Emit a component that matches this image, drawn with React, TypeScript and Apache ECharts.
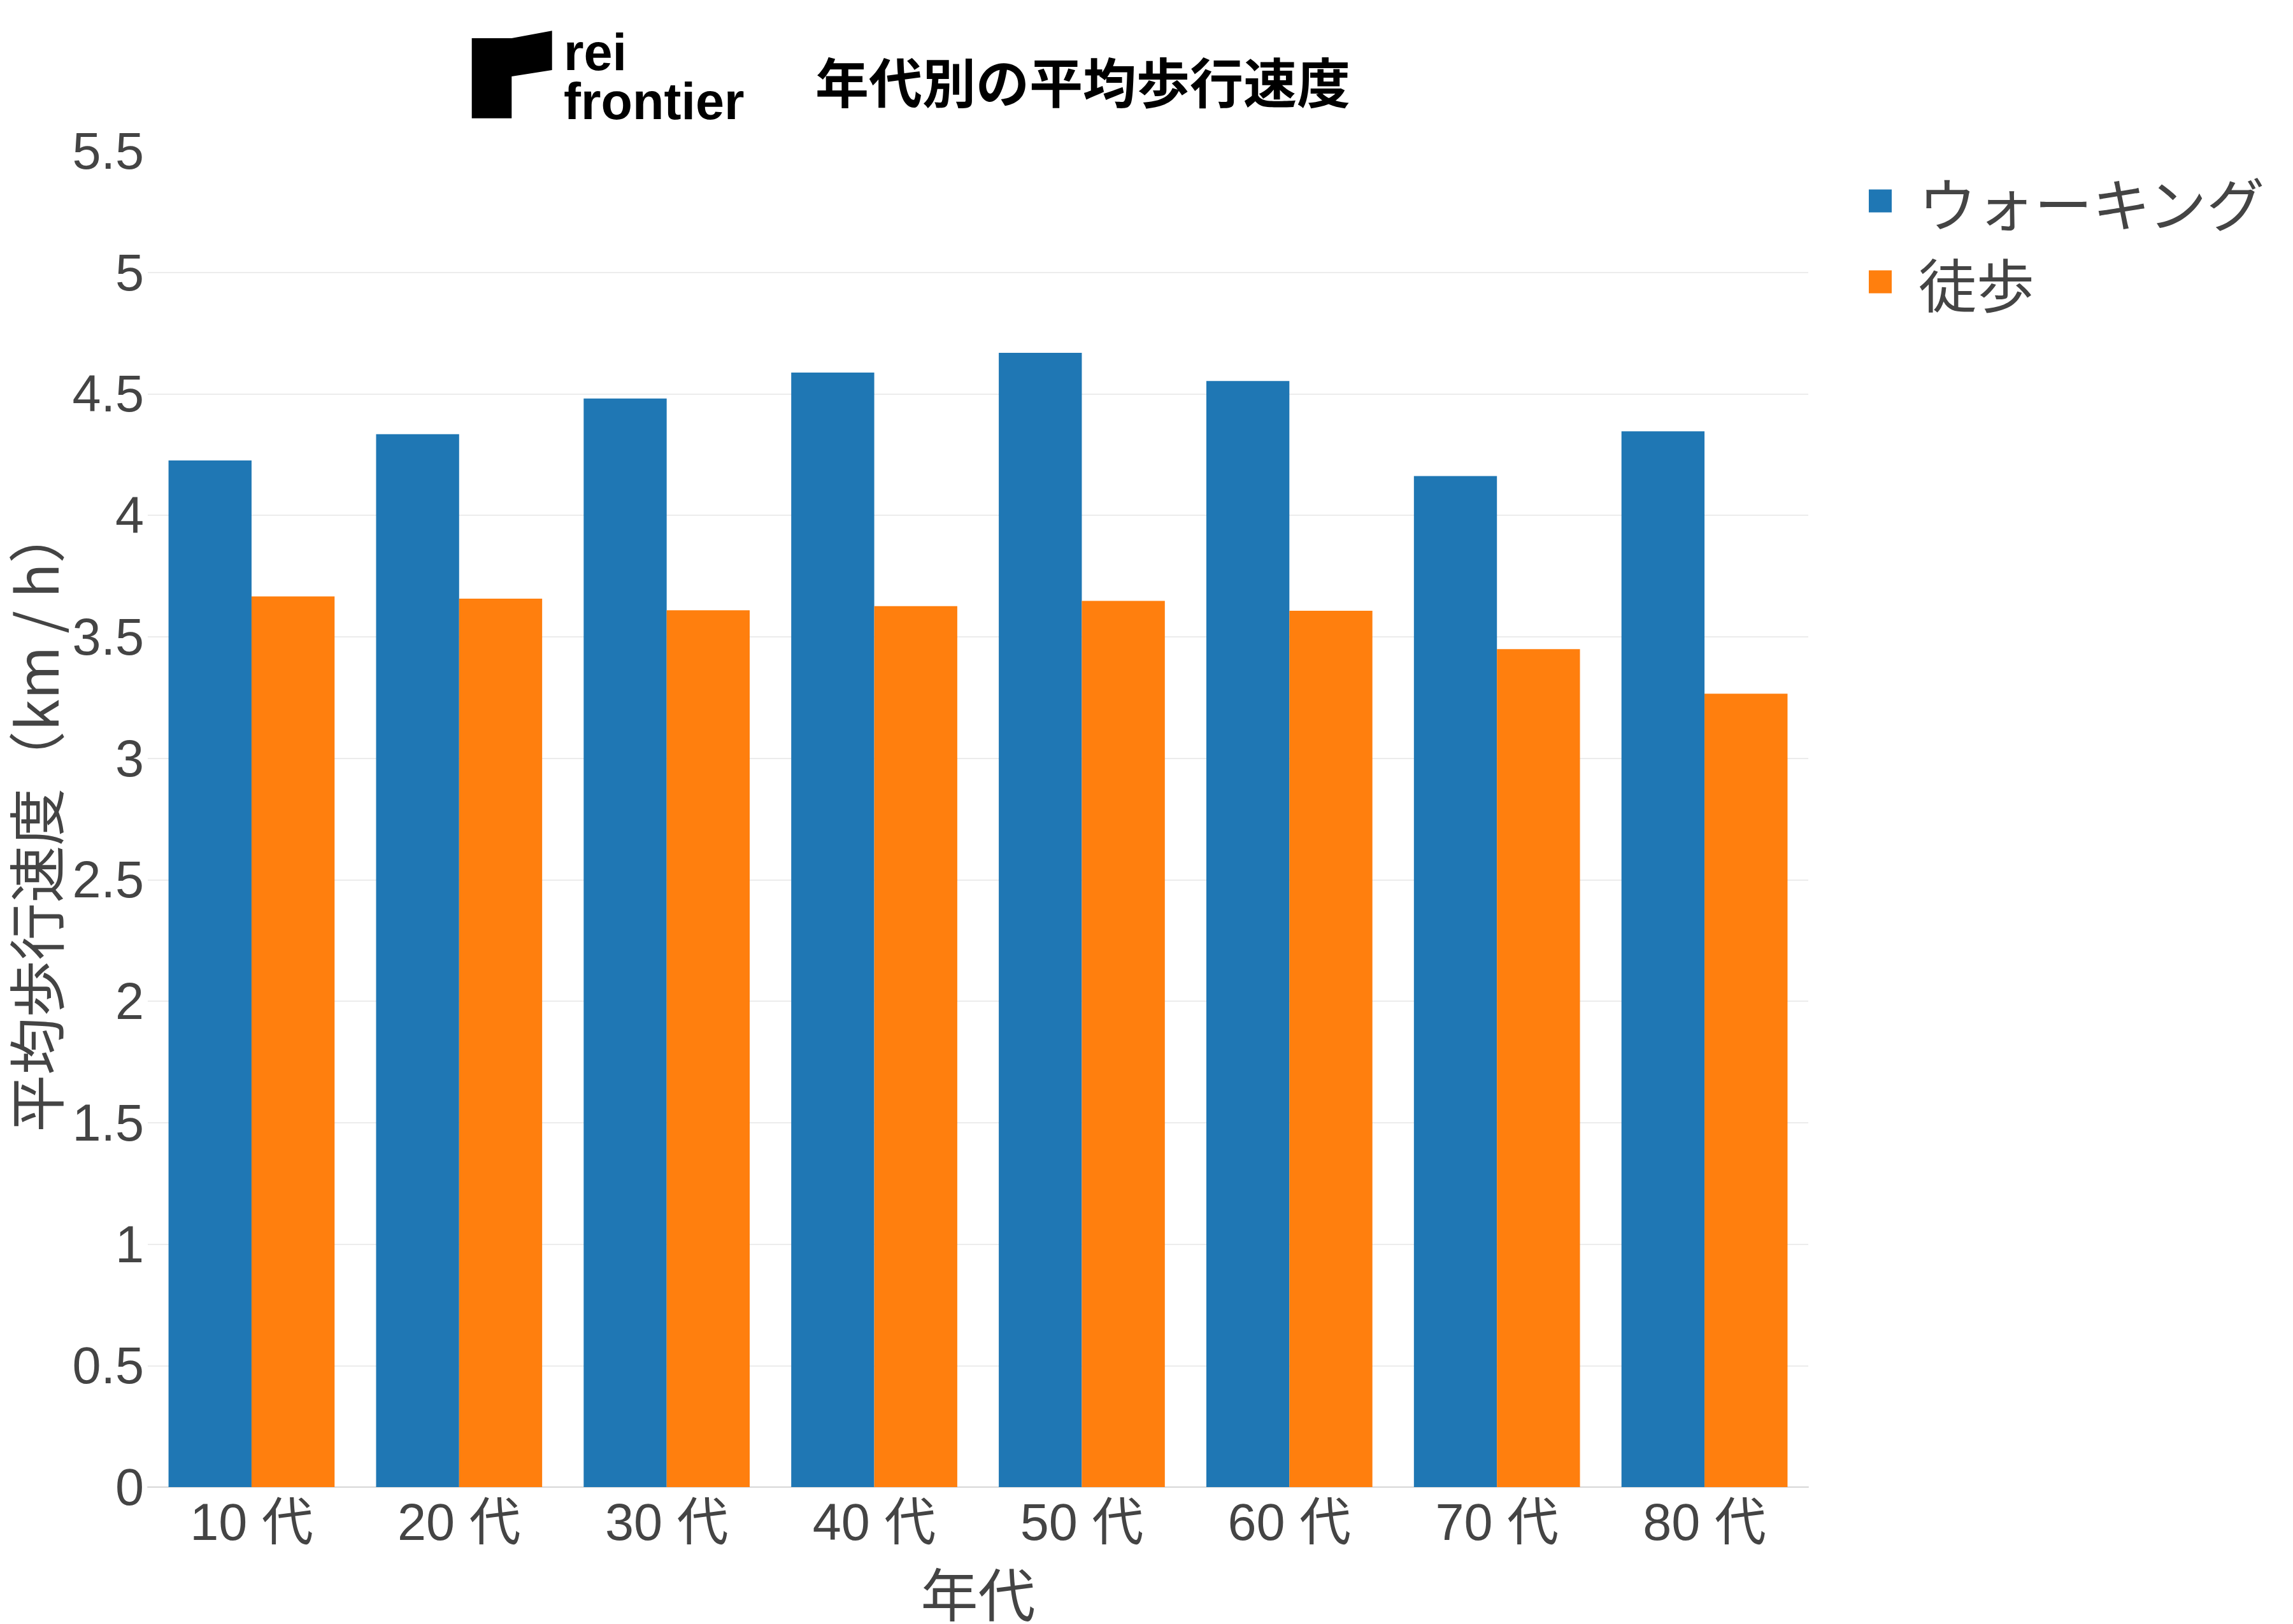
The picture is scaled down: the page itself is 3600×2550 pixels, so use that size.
import React, { useEffect, useRef } from "react";
import * as echarts from "echarts";

const categories = ["10 代", "20 代", "30 代", "40 代", "50 代", "60 代", "70 代", "80 代"];
const walkingValues = [4.226, 4.334, 4.481, 4.588, 4.669, 4.553, 4.162, 4.346];
const tohoValues = [3.666, 3.657, 3.609, 3.626, 3.648, 3.607, 3.449, 3.266];
const seriesNames = ["ウォーキング", "徒歩"];
const seriesColors = ["#1f77b4", "#ff7f0e"];
const yMin = 0;
const yMax = 5.5;
const yInterval = 0.5;

const titleText = "年代別の平均歩行速度";
const xTitle = "年代";
const yTitle = "平均歩行速度（km / h）";
const logoText = "rei\nfrontier";

const LATIN = "'Liberation Sans', 'Noto Sans CJK JP', sans-serif";
const CJK = "'Noto Sans CJK JP', 'Liberation Sans', sans-serif";

export default function App() {
  const ref = useRef<HTMLDivElement>(null);
  useEffect(() => {
    if (!ref.current) return;
    const chart = echarts.init(ref.current, null, { renderer: "svg" });
    const nTicks = Math.round((yMax - yMin) / yInterval) + 1;
    const gridColors = Array.from({ length: nTicks }, (_, i) =>
      i === 0 || i === nTicks - 1 ? "rgba(0,0,0,0)" : "#ececec"
    );
    chart.setOption({
      animation: false,
      backgroundColor: "#ffffff",
      color: seriesColors,
      grid: { left: 232, right: 761, top: 237, bottom: 215, containLabel: false },
      legend: {
        orient: "vertical",
        left: 2934,
        top: 270,
        padding: 0,
        icon: "rect",
        itemWidth: 36,
        itemHeight: 36,
        itemGap: 36,
        data: seriesNames,
        textStyle: {
          fontFamily: CJK,
          fontSize: 91,
          color: "#444444",
          lineHeight: 90,
          padding: [0, 0, 0, 37],
        },
      },
      xAxis: {
        type: "category",
        data: categories,
        name: xTitle,
        nameLocation: "middle",
        nameGap: 121,
        nameTextStyle: { fontFamily: CJK, fontSize: 90, lineHeight: 86, color: "#444444" },
        axisLine: { show: true, lineStyle: { color: "#d6d6d6", width: 2 } },
        axisTick: { show: false },
        axisLabel: { fontFamily: LATIN, fontSize: 81, color: "#444444", margin: 14 },
      },
      yAxis: {
        type: "value",
        min: yMin,
        max: yMax,
        interval: yInterval,
        name: yTitle,
        nameLocation: "middle",
        nameGap: 136,
        nameRotate: 90,
        nameTextStyle: { fontFamily: CJK, fontSize: 90, lineHeight: 86, color: "#444444" },
        axisLine: { show: false },
        axisTick: { show: false },
        axisLabel: { fontFamily: LATIN, fontSize: 81, color: "#444444", margin: 6 },
        splitLine: { show: true, lineStyle: { color: gridColors, width: 2 } },
      },
      series: [
        {
          name: seriesNames[0],
          type: "bar",
          data: walkingValues,
          barGap: "0%",
          barCategoryGap: "20%",
          itemStyle: { color: seriesColors[0] },
        },
        {
          name: seriesNames[1],
          type: "bar",
          data: tohoValues,
          barGap: "0%",
          barCategoryGap: "20%",
          itemStyle: { color: seriesColors[1] },
        },
      ],
      graphic: [
        {
          type: "polygon",
          shape: {
            points: [
              [740.7, 60],
              [803.3, 60],
              [866.7, 48.3],
              [866.7, 110],
              [803.3, 120],
              [803.3, 185.7],
              [740.7, 185.7],
            ],
          },
          style: { fill: "#000000" },
        },
        {
          type: "text",
          x: 885,
          y: 43,
          style: {
            text: logoText,
            fontFamily: LATIN,
            fontWeight: "bold",
            fontSize: 81,
            lineHeight: 77,
            fill: "#000000",
            verticalAlign: "top",
            align: "left",
          },
        },
        {
          type: "text",
          x: 1700,
          y: 125,
          style: {
            text: titleText,
            fontFamily: CJK,
            fontWeight: "bold",
            fontSize: 84,
            fill: "#000000",
            verticalAlign: "middle",
            align: "center",
          },
        },
      ],
    });
    return () => chart.dispose();
  }, []);
  return (
    <div
      ref={ref}
      style={{ position: "fixed", left: 0, top: 0, width: 3600, height: 2550, background: "#fff" }}
    />
  );
}
